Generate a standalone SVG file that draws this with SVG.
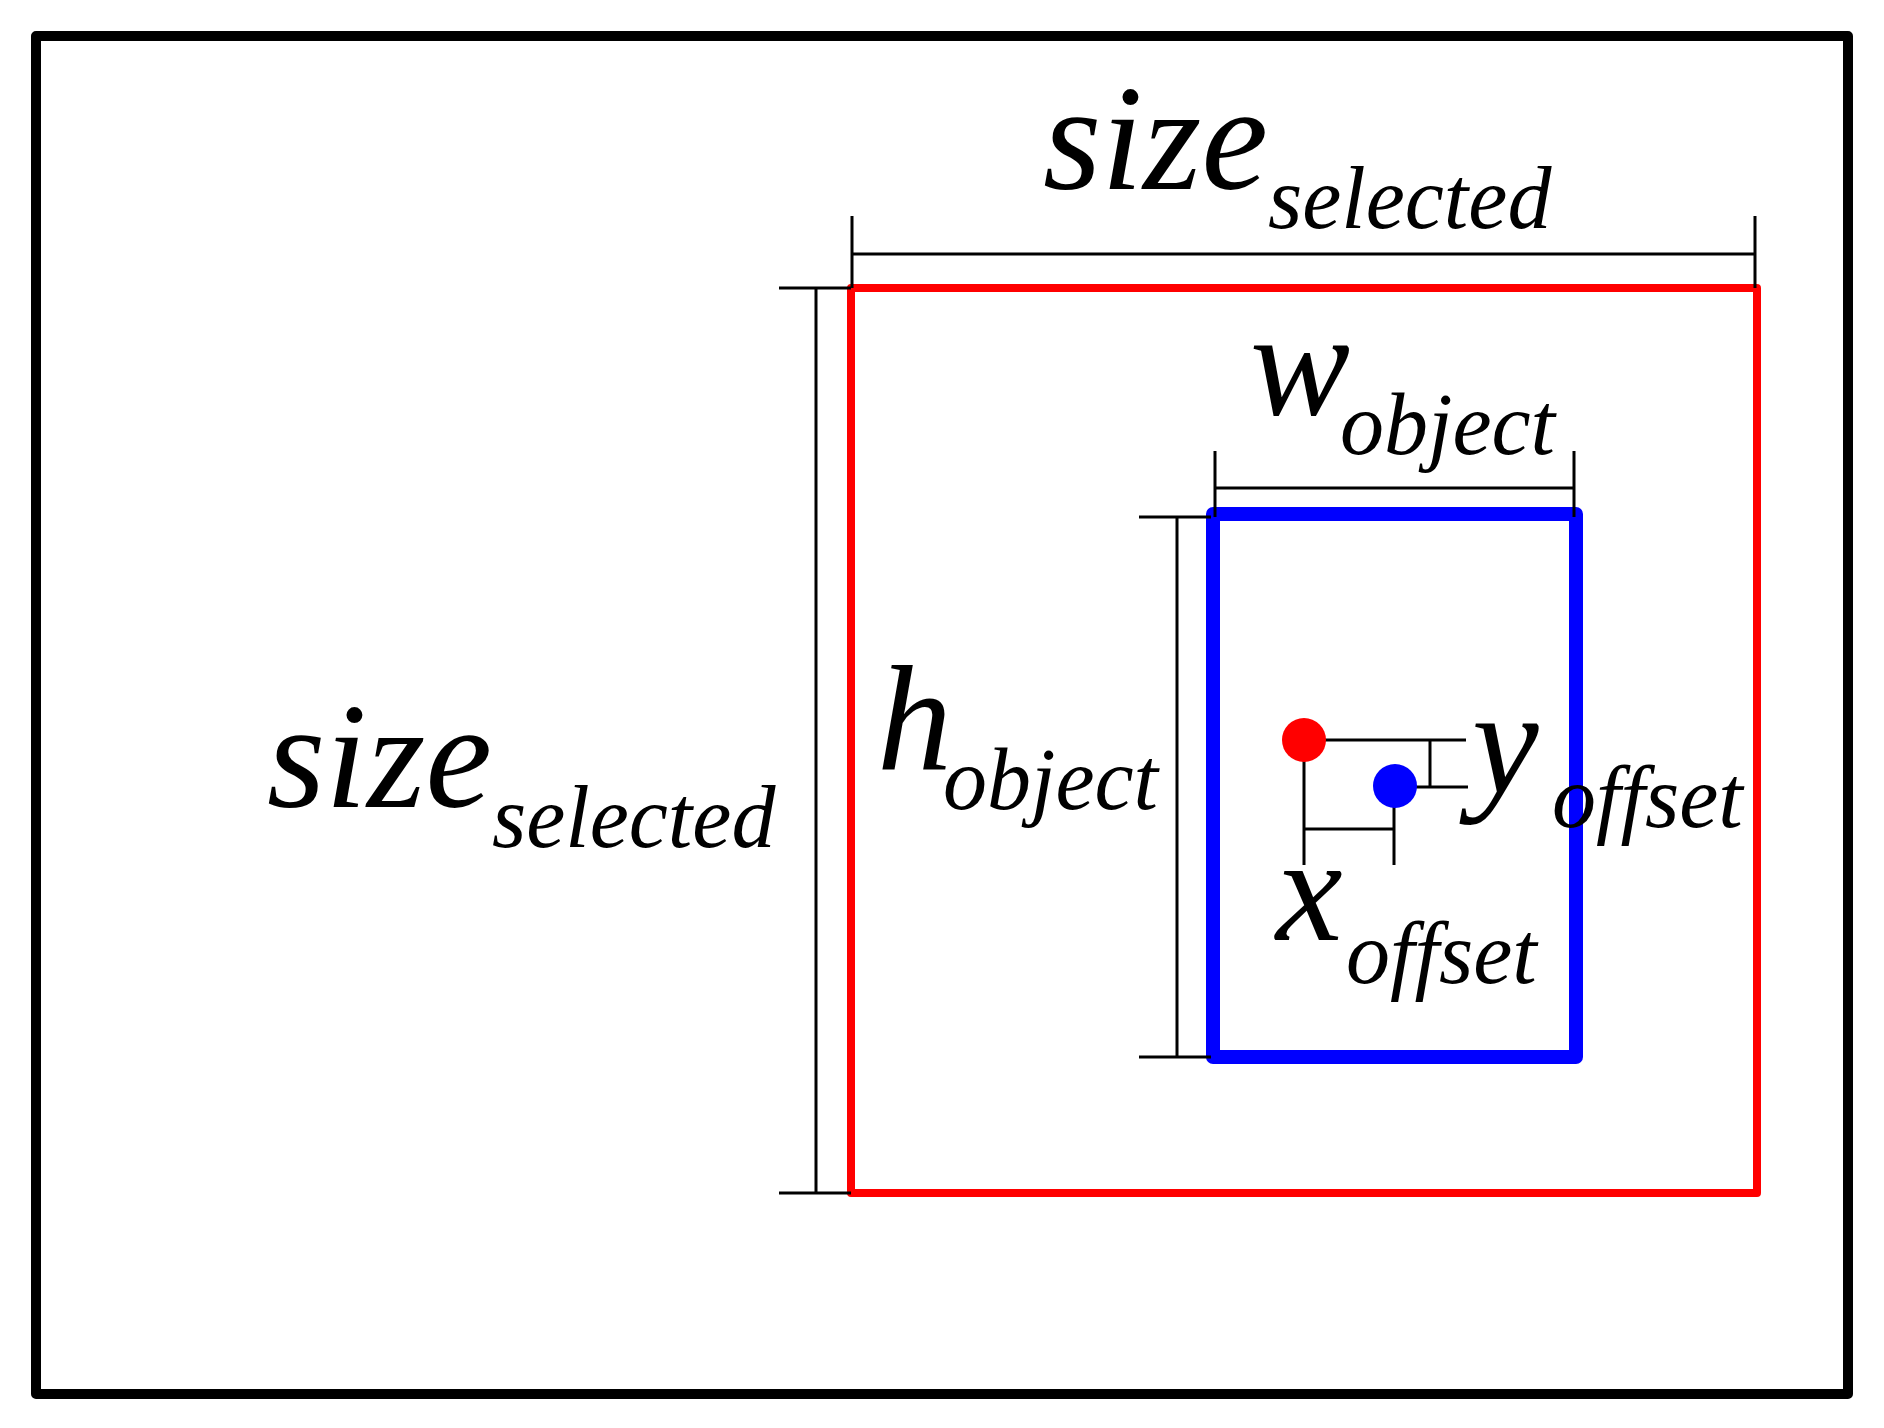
<svg xmlns="http://www.w3.org/2000/svg" width="1884" height="1428" viewBox="0 0 1884 1428">
<style>
.t{font-family:"Liberation Serif","Times New Roman",serif;font-style:italic;fill:#000}
.b{font-size:150px}.s{font-size:88px}
.d{stroke:#000;stroke-width:3;fill:none}
</style>
<rect width="1884" height="1428" fill="#fff"/>
<rect x="36" y="36" width="1812" height="1358" fill="none" stroke="#000" stroke-width="10" stroke-linejoin="round"/>
<g id="selected"><rect x="851" y="288" width="906" height="905" fill="none" stroke="#ff0000" stroke-width="8" stroke-linejoin="round"/></g>
<g id="object"><rect x="1213" y="514" width="363" height="543" fill="none" stroke="#0000ff" stroke-width="14" stroke-linejoin="round"/></g>
<g id="connectors" class="d">
<path d="M852 254H1755M852 216V288M1755 216V288"/>
<path d="M816 288V1193M779 288H851M779 1193H851"/>
<path d="M1215 488H1574M1215 451V517M1574 451V517"/>
<path d="M1177 517V1057M1139 517H1211M1139 1057H1211"/>
<path d="M1304 740H1466M1430 740V787M1395 787H1468M1304 740V865M1394 786V865M1304 829H1394"/>
</g>
<g id="centers">
<circle cx="1304" cy="740" r="22" fill="#ff0000"/>
<circle cx="1395" cy="786" r="22" fill="#0000ff"/>
</g>
<g id="labels">
<text class="t" x="1043" y="189"><tspan class="b">size</tspan><tspan class="s" dy="39">selected</tspan></text>
<text class="t" x="267" y="807"><tspan class="b">size</tspan><tspan class="s" dy="40">selected</tspan></text>
<text class="t" x="1250" y="415"><tspan class="b">w</tspan><tspan class="s" x="1340" dy="39">object</tspan></text>
<text class="t" x="877" y="769"><tspan class="b">h</tspan><tspan class="s" x="943" dy="40">object</tspan></text>
<text class="t" x="1472" y="793"><tspan class="b">y</tspan><tspan class="s" x="1552" dy="34">offset</tspan></text>
<text class="t" x="1276" y="940"><tspan class="b">x</tspan><tspan class="s" x="1346" dy="43">offset</tspan></text>
</g>
</svg>
